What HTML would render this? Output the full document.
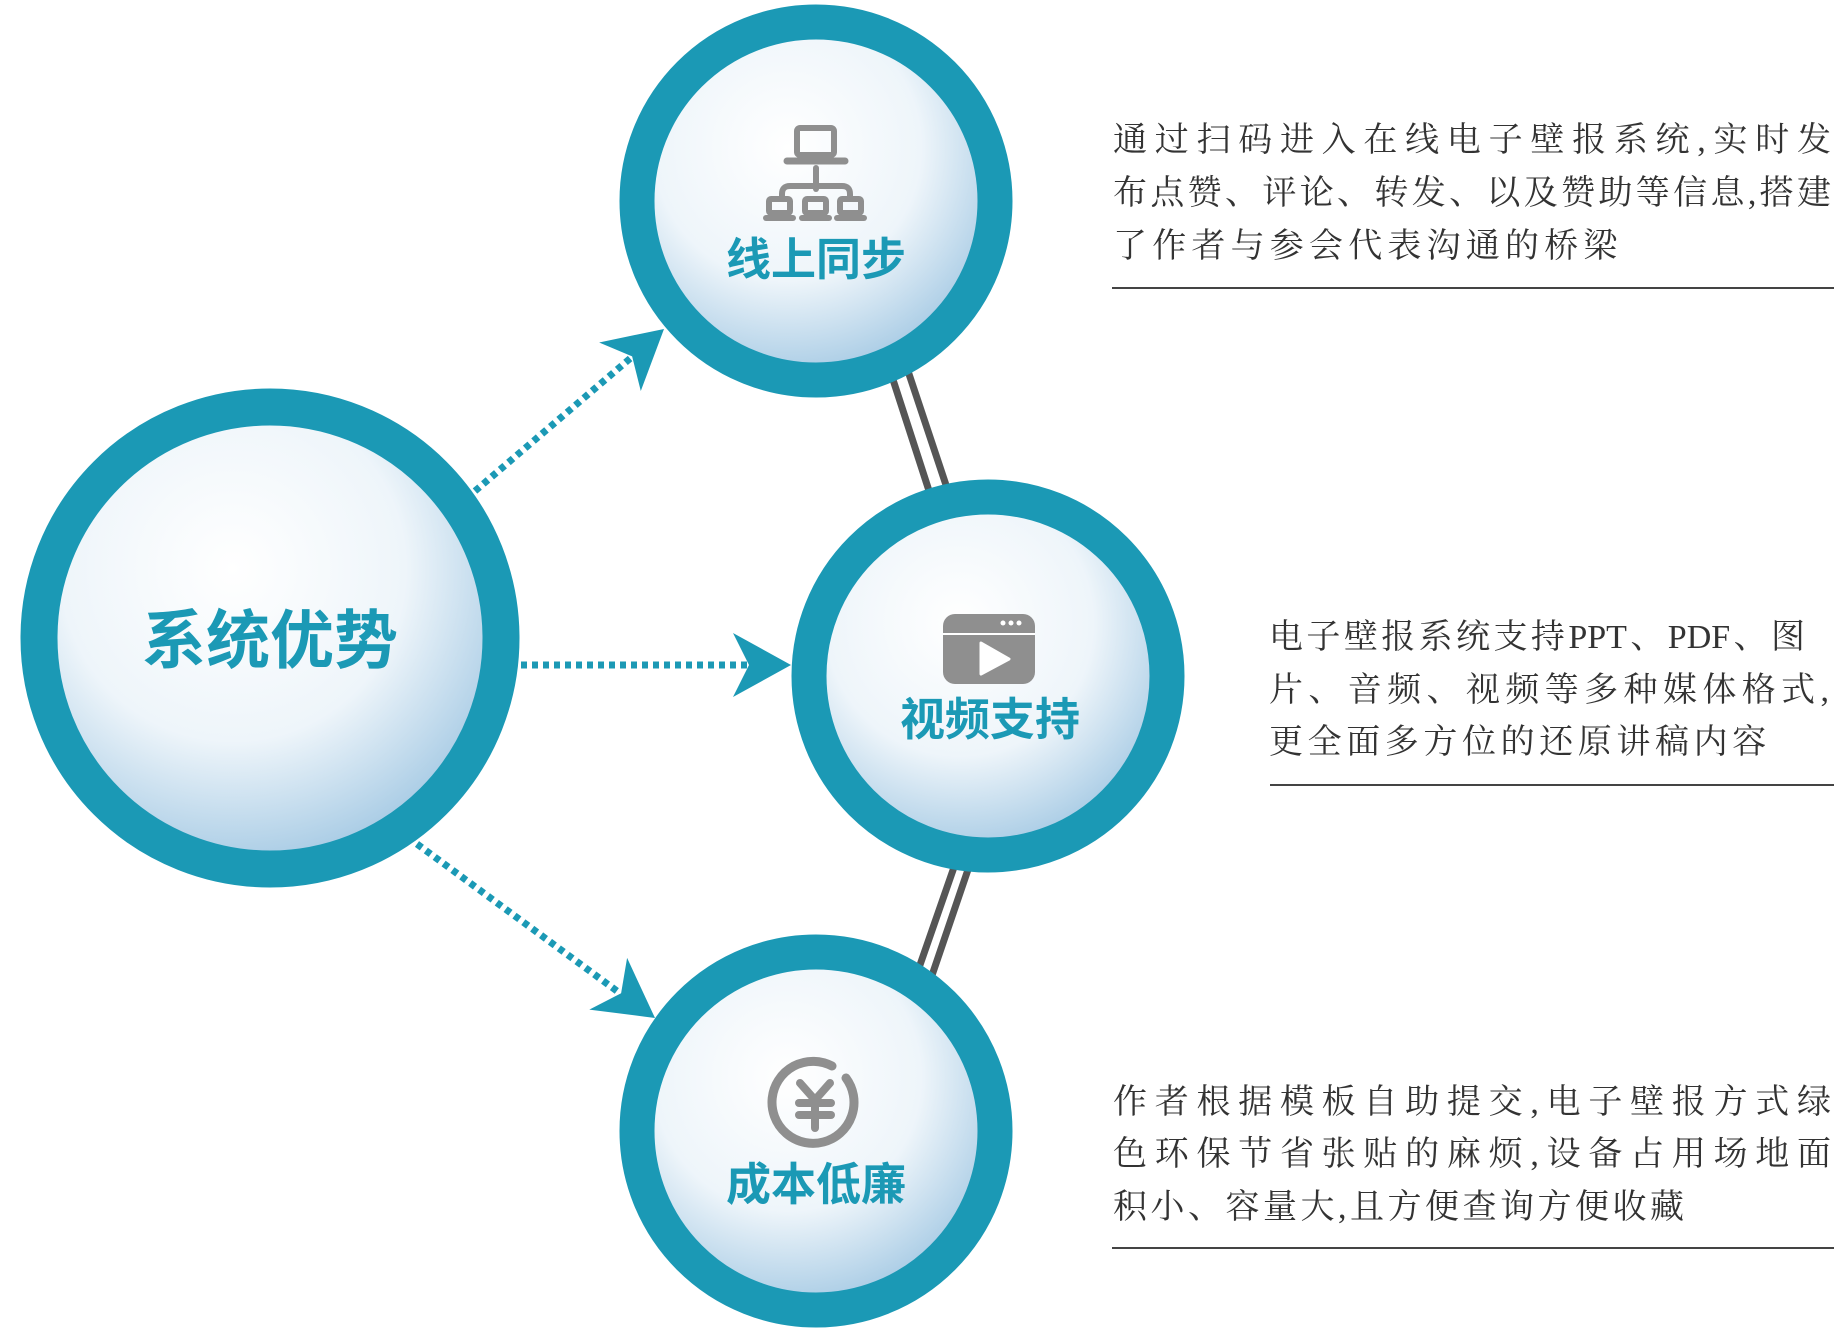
<!DOCTYPE html>
<html><head><meta charset="utf-8"><style>
html,body{margin:0;padding:0;background:#fff;}
body{width:1843px;height:1341px;overflow:hidden;position:relative;}
.t{position:absolute;font-family:"Liberation Serif","Noto Serif CJK SC",serif;font-size:34px;color:#333;white-space:nowrap;line-height:53px;}
.j{text-align:justify;text-align-last:justify;}
.hr{position:absolute;height:2px;background:#444;}
</style></head><body>
<svg width="1843" height="1341" viewBox="0 0 1843 1341" style="position:absolute;left:0;top:0">
<defs>
<radialGradient id="g" cx="0.42" cy="0.35" r="0.68">
<stop offset="0" stop-color="#ffffff"/><stop offset="0.55" stop-color="#eef5fa"/><stop offset="1" stop-color="#9fc6e2"/>
</radialGradient>
<path id="ah" d="M0,0 L-58,-32 L-42,0 L-58,32 Z" fill="#1b99b5"/>
</defs>
<g stroke="#555" stroke-width="7" fill="none">
<line x1="885" y1="355" x2="932" y2="500"/>
<line x1="901" y1="350" x2="951" y2="500"/>
<line x1="960" y1="850" x2="913" y2="985"/>
<line x1="974" y1="852" x2="927" y2="990"/>
</g>
<g stroke="#1b99b5" stroke-width="7" stroke-dasharray="6 5" fill="none">
<line x1="475" y1="491" x2="633" y2="356"/>
<line x1="521" y1="665" x2="751" y2="665"/>
<line x1="417" y1="844" x2="621" y2="994"/>
</g>
<use href="#ah" transform="translate(664,329) rotate(-40.6)"/>
<use href="#ah" transform="translate(791,665)"/>
<use href="#ah" transform="translate(655,1018) rotate(36.2)"/>
<g stroke="#1b99b5" fill="url(#g)">
<circle cx="270" cy="638" r="231" stroke-width="37"/>
<circle cx="816" cy="201" r="179" stroke-width="35"/>
<circle cx="988" cy="676" r="179" stroke-width="35"/>
<circle cx="816" cy="1131" r="179" stroke-width="35"/>
</g>
<g fill="none" stroke="#8f8f8f" stroke-width="6" stroke-linecap="round">
<rect x="797" y="128" width="37" height="27" rx="3"/>
<line x1="787" y1="161" x2="845" y2="161" stroke-width="7"/>
<line x1="816" y1="168" x2="816" y2="189"/>
<path d="M782,197 v-3 q0,-8 8,-8 h52 q8,0 8,8 v3"/>
<rect x="769" y="199" width="21" height="14" rx="2"/>
<rect x="805" y="199" width="21" height="14" rx="2"/>
<rect x="840" y="199" width="21" height="14" rx="2"/>
<line x1="766" y1="218" x2="793" y2="218"/>
<line x1="802" y1="218" x2="829" y2="218"/>
<line x1="837" y1="218" x2="864" y2="218"/>
</g>
<rect x="943" y="614" width="92" height="70" rx="12" fill="#8f8f8f"/>
<line x1="943" y1="634" x2="1035" y2="634" stroke="#fff" stroke-width="2"/>
<circle cx="1003" cy="623" r="2.5" fill="#fff"/><circle cx="1011" cy="623" r="2.5" fill="#fff"/><circle cx="1019" cy="623" r="2.5" fill="#fff"/>
<path d="M981,643 L1009,659 L981,674 Z" fill="#fff" stroke="#fff" stroke-width="3" stroke-linejoin="round"/>
<path d="M832,1066 A41,41 0 1 0 846,1078" fill="none" stroke="#8f8f8f" stroke-width="9" stroke-linecap="round"/>
<g stroke="#8f8f8f" stroke-width="8" stroke-linecap="round" fill="none">
<path d="M800,1083 L815,1100 L830,1083"/>
<line x1="799" y1="1103" x2="831" y2="1103"/>
<line x1="799" y1="1115" x2="831" y2="1115"/>
<line x1="815" y1="1100" x2="815" y2="1128"/>
</g>
<g font-family="'Liberation Sans','Noto Sans CJK SC',sans-serif" font-weight="bold" fill="#1b99b5" text-anchor="middle">
<text x="270" y="663" font-size="64">系统优势</text>
<text x="816" y="275" font-size="45">线上同步</text>
<text x="990" y="735" font-size="45">视频支持</text>
<text x="816" y="1200" font-size="45">成本低廉</text>
</g>
</svg>
<div class="t j" style="left:1113px;top:114px;width:718px">通过扫码进入在线电子壁报系统,实时发</div>
<div class="t j" style="left:1113px;top:167px;width:718px">布点赞、评论、转发、以及赞助等信息,搭建</div>
<div class="t" style="left:1113px;top:220px;letter-spacing:5.2px">了作者与参会代表沟通的桥梁</div>
<div class="hr" style="left:1112px;top:287px;width:722px"></div>
<div class="t j" style="left:1269px;top:611px;width:536px">电子壁报系统支持PPT、PDF、图</div>
<div class="t j" style="left:1269px;top:664px;width:560px">片、音频、视频等多种媒体格式,</div>
<div class="t" style="left:1269px;top:716px;letter-spacing:4.6px">更全面多方位的还原讲稿内容</div>
<div class="hr" style="left:1270px;top:784px;width:564px"></div>
<div class="t j" style="left:1113px;top:1076px;width:718px">作者根据模板自助提交,电子壁报方式绿</div>
<div class="t j" style="left:1113px;top:1128px;width:718px">色环保节省张贴的麻烦,设备占用场地面</div>
<div class="t" style="left:1113px;top:1181px;letter-spacing:3.5px">积小、容量大,且方便查询方便收藏</div>
<div class="hr" style="left:1112px;top:1247px;width:722px"></div>
</body></html>
